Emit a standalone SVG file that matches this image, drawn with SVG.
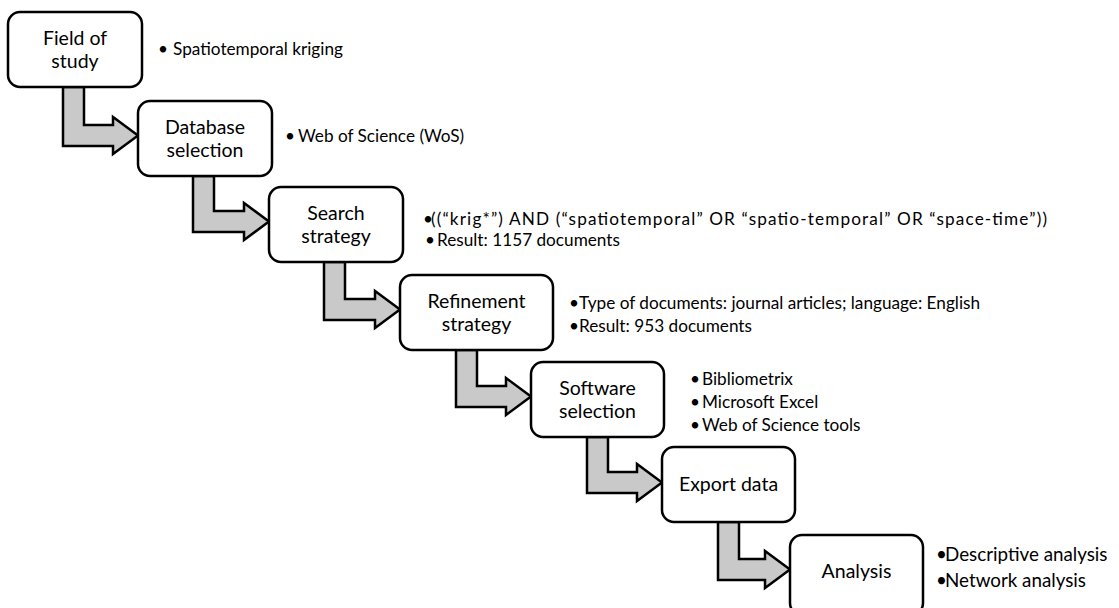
<svg xmlns="http://www.w3.org/2000/svg" width="1119" height="608" viewBox="0 0 1119 608">
<style>
.box{fill:#fff;stroke:#000;stroke-width:2.5}
.arr{fill:#c9c9c9;stroke:#000;stroke-width:2.5;stroke-linejoin:miter}
.lbl{font-family:Lato,"Liberation Sans",sans-serif;font-size:19.5px;fill:#000;text-anchor:middle}
.bt{font-family:Lato,"Liberation Sans",sans-serif;font-size:17.2px;fill:#000}
.bt2{font-family:Lato,"Liberation Sans",sans-serif;font-size:18.8px;fill:#000}
</style>
<rect width="1119" height="608" fill="#fff"/>
<g id="connectors">
<polygon class="arr" points="63,87 84,87 84,125 113,125 113,117 138,135.5 113,154 113,146 63,146"/>
<polygon class="arr" points="193,176 214,176 214,211 244,211 244,203 269,221.5 244,240 244,232 193,232"/>
<polygon class="arr" points="324,262 345,262 345,299 375,299 375,291 400,309.5 375,328 375,320 324,320"/>
<polygon class="arr" points="456,350 477,350 477,386 506,386 506,378 531,396.5 506,415 506,407 456,407"/>
<polygon class="arr" points="587,437 608,437 608,472 637,472 637,464 662,482.5 637,501 637,493 587,493"/>
<polygon class="arr" points="718,522 739,522 739,559 765,559 765,551 790,569.5 765,588 765,580 718,580"/>
</g>
<g id="n1">
<rect class="box" x="8" y="12" width="134" height="75" rx="12"/>
<text class="lbl" x="75" y="44.5">Field of</text>
<text class="lbl" x="75" y="67.5">study</text>
<text class="bt" x="158" y="55">•</text><text class="bt" x="173" y="55">Spatiotemporal kriging</text>
</g>
<g id="n2">
<rect class="box" x="138" y="101" width="134" height="75" rx="12"/>
<text class="lbl" x="205" y="133.5">Database</text>
<text class="lbl" x="205" y="156.5">selection</text>
<text class="bt" x="285" y="142">•</text><text class="bt" x="298" y="142">Web of Science (WoS)</text>
</g>
<g id="n3">
<rect class="box" x="269" y="187" width="134" height="75" rx="12"/>
<text class="lbl" x="336" y="219.5">Search</text>
<text class="lbl" x="336" y="242.5">strategy</text>
<text class="bt" x="423" y="225">•</text><text class="bt" x="431" y="225" font-size="18" textLength="616" lengthAdjust="spacing">((“krig*”) AND (“spatiotemporal” OR “spatio-temporal” OR “space-time”))</text>
<text class="bt" x="425" y="246">•</text><text class="bt" x="437" y="246">Result: 1157 documents</text>
</g>
<g id="n4">
<rect class="box" x="400" y="275" width="153" height="75" rx="12"/>
<text class="lbl" x="476.5" y="307.5">Refinement</text>
<text class="lbl" x="476.5" y="330.5">strategy</text>
<text class="bt" x="569" y="309">•</text><text class="bt" x="579" y="309">Type of documents: journal articles; language: English</text>
<text class="bt" x="569" y="332">•</text><text class="bt" x="579" y="332">Result: 953 documents</text>
</g>
<g id="n5">
<rect class="box" x="531" y="362" width="133" height="75" rx="12"/>
<text class="lbl" x="597.5" y="394.5">Software</text>
<text class="lbl" x="597.5" y="417.5">selection</text>
<text class="bt" x="690" y="385">•</text><text class="bt" x="702" y="385">Bibliometrix</text>
<text class="bt" x="690" y="408">•</text><text class="bt" x="702" y="408">Microsoft Excel</text>
<text class="bt" x="690" y="431">•</text><text class="bt" x="702" y="431">Web of Science tools</text>
</g>
<g id="n6">
<rect class="box" x="662" y="447" width="133" height="75" rx="12"/>
<text class="lbl" x="728.5" y="491">Export data</text>
</g>
<g id="n7">
<rect class="box" x="790" y="535" width="133" height="80" rx="12"/>
<text class="lbl" x="856.5" y="578">Analysis</text>
<text class="bt2" x="936" y="561">•</text><text class="bt2" x="945" y="561">Descriptive analysis</text>
<text class="bt2" x="936" y="587">•</text><text class="bt2" x="945" y="587">Network analysis</text>
</g>
</svg>
